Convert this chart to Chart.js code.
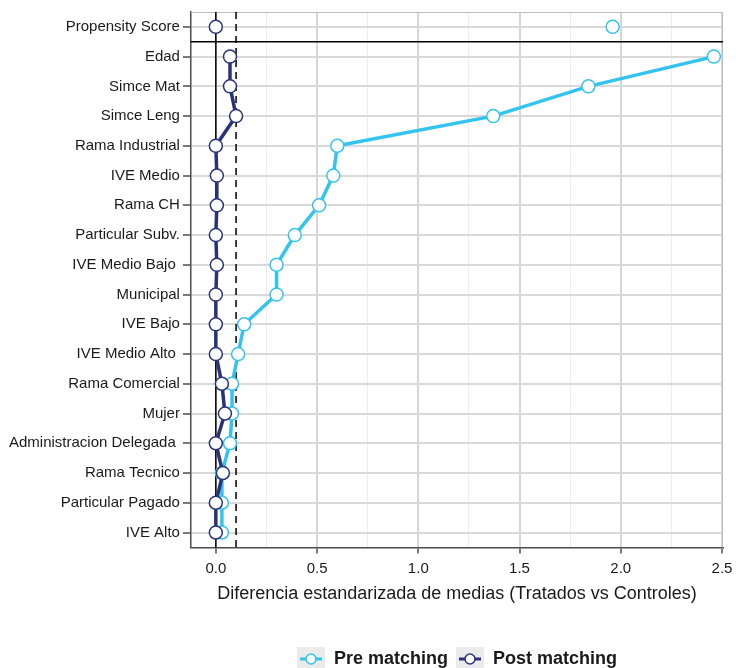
<!DOCTYPE html>
<html>
<head>
<meta charset="utf-8">
<script src="https://cdn.jsdelivr.net/npm/chart.js@4/dist/chart.umd.min.js"></script>
<style>
  html, body { margin: 0; padding: 0; background: #fff; }
  #wrap { width: 736px; height: 668px; }
</style>
</head>
<body>
<div id="wrap"><canvas id="balanceChart"></canvas></div>
<script>
// Data
const variables = ["Propensity Score", "Edad", "Simce Mat", "Simce Leng", "Rama Industrial",
  "IVE Medio", "Rama CH", "Particular Subv.", "IVE Medio Bajo ", "Municipal", "IVE Bajo",
  "IVE Medio Alto ", "Rama Comercial", "Mujer", "Administracion Delegada ", "Rama Tecnico",
  "Particular Pagado", "IVE Alto"];
const preMatching = [1.96, 2.46, 1.84, 1.37, 0.60, 0.58, 0.51, 0.39, 0.30, 0.30, 0.14, 0.11,
  0.08, 0.08, 0.07, 0.03, 0.03, 0.03];
const postMatching = [0.00, 0.07, 0.07, 0.10, 0.00, 0.005, 0.005, 0.00, 0.005, 0.00, 0.00, 0.00,
  0.03, 0.045, 0.00, 0.035, 0.00, 0.00];
const xMajorTicks = [0, 0.5, 1, 1.5, 2, 2.5];
const xMinorTicks = [0.25, 0.75, 1.25, 1.75, 2.25];
const threshold = 0.1;

const preColor = '#33c3ef';
const postColor = '#28337a';

// legend key: line + open circle on a grey box
function legendKey(color) {
  const c = document.createElement('canvas');
  c.width = 28; c.height = 24;
  const g = c.getContext('2d');
  g.fillStyle = '#ebebeb';
  g.fillRect(0, 0, 28, 24);
  g.strokeStyle = color;
  g.lineWidth = 3;
  g.beginPath(); g.moveTo(3, 12); g.lineTo(25, 12); g.stroke();
  g.fillStyle = '#fff';
  g.lineWidth = 1.5;
  g.beginPath(); g.arc(14, 12, 5, 0, Math.PI * 2); g.fill(); g.stroke();
  return c;
}
const legendKeys = [legendKey(preColor), legendKey(postColor)];

// zero line, 0.1 threshold, separator under propensity score, panel border
const refLines = {
  id: 'refLines',
  afterLayout(chart) {
    // centre the legend under the panel rather than the canvas
    chart.legend.left = chart.chartArea.left;
    chart.legend.right = chart.chartArea.right;
  },
  beforeDatasetsDraw(chart) {
    const { ctx, chartArea: a, scales: { x, y } } = chart;
    ctx.save();
    ctx.strokeStyle = '#bdbdbd';
    ctx.lineWidth = 1;
    ctx.beginPath();
    ctx.moveTo(a.left, a.top + 0.5); ctx.lineTo(a.right - 0.5, a.top + 0.5);
    ctx.lineTo(a.right - 0.5, a.bottom);
    ctx.stroke();

    ctx.strokeStyle = '#000';
    ctx.lineWidth = 1.5;
    const x0 = x.getPixelForValue(0);
    ctx.beginPath(); ctx.moveTo(x0, a.top); ctx.lineTo(x0, a.bottom); ctx.stroke();
    const yb = y.getPixelForValue(0.5);
    ctx.beginPath(); ctx.moveTo(a.left, yb); ctx.lineTo(a.right, yb); ctx.stroke();

    ctx.setLineDash([7, 5]);
    const xt = x.getPixelForValue(threshold);
    ctx.beginPath(); ctx.moveTo(xt, a.top); ctx.lineTo(xt, a.bottom); ctx.stroke();
    ctx.restore();
  }
};

const pointStyleOpts = {
  pointRadius: 6.5,
  pointHoverRadius: 6.5,
  pointBackgroundColor: '#fff',
  pointBorderWidth: 1.5
};

new Chart(document.getElementById('balanceChart'), {
  type: 'line',
  data: {
    labels: variables,
    datasets: [
      Object.assign({
        label: 'Pre matching',
        data: preMatching.map((v, i) => i === 0 ? null : v),
        borderColor: preColor,
        pointBorderColor: preColor,
        borderWidth: 3.5,
        order: 2
      }, pointStyleOpts),
      Object.assign({
        label: 'Post matching',
        data: postMatching.map((v, i) => i === 0 ? null : v),
        borderColor: postColor,
        pointBorderColor: postColor,
        borderWidth: 3.5,
        order: 1
      }, pointStyleOpts),
      Object.assign({
        label: 'Pre PS',
        data: preMatching.map((v, i) => i === 0 ? v : null),
        borderColor: preColor,
        pointBorderColor: preColor,
        showLine: false,
        order: 2
      }, pointStyleOpts),
      Object.assign({
        label: 'Post PS',
        data: postMatching.map((v, i) => i === 0 ? v : null),
        borderColor: postColor,
        pointBorderColor: postColor,
        showLine: false,
        order: 1
      }, pointStyleOpts)
    ]
  },
  options: {
    indexAxis: 'y',
    responsive: true,
    maintainAspectRatio: false,
    animation: false,
    spanGaps: false,
    layout: { padding: { left: 6, right: 13, top: 12, bottom: -10 } },
    scales: {
      x: {
        type: 'linear',
        min: -0.123,
        max: 2.505,
        afterBuildTicks(scale) {
          scale.ticks = xMajorTicks.concat(xMinorTicks).sort((a, b) => a - b).map(v => ({ value: v }));
        },
        afterFit(scale) {
          // let the "2.5" label run past the panel edge, as in the original
          scale.paddingRight = 0;
        },
        ticks: {
          color: '#1a1a1a',
          font: { family: 'Liberation Sans', size: 15 },
          padding: 6,
          autoSkip: false,
          maxRotation: 0,
          callback: v => xMajorTicks.includes(v) ? v.toFixed(1) : ''
        },
        grid: {
          color: c => xMajorTicks.includes(c.tick.value) ? '#d6d6d6' : '#ececec',
          lineWidth: c => xMajorTicks.includes(c.tick.value) ? 2 : 1,
          tickColor: c => xMajorTicks.includes(c.tick.value) ? '#4d4d4d' : 'rgba(0,0,0,0)',
          tickLength: 6,
          tickWidth: 1.5
        },
        border: { color: '#4d4d4d', width: 1.5 },
        title: {
          display: true,
          text: 'Diferencia estandarizada de medias (Tratados vs Controles)',
          color: '#1a1a1a',
          font: { family: 'Liberation Sans', size: 18 },
          padding: { top: 0, bottom: 37 }
        }
      },
      y: {
        type: 'category',
        offset: true,
        ticks: {
          color: '#1a1a1a',
          font: { family: 'Liberation Sans', size: 15 },
          padding: 3,
          autoSkip: false
        },
        grid: {
          offset: false,
          color: '#d9d9d9',
          lineWidth: 2,
          tickColor: '#4d4d4d',
          tickLength: 8,
          tickWidth: 1.5
        },
        border: { color: '#4d4d4d', width: 1.5 }
      }
    },
    plugins: {
      tooltip: { enabled: false },
      legend: {
        position: 'bottom',
        labels: {
          usePointStyle: true,
          pointStyleWidth: 28,
          color: '#1a1a1a',
          font: { family: 'Liberation Sans', size: 18, weight: 'bold' },
          padding: 8,
          sort: (a, b) => a.datasetIndex - b.datasetIndex,
          generateLabels(chart) {
            return Chart.defaults.plugins.legend.labels.generateLabels(chart)
              .filter(l => l.datasetIndex < 2)
              .map(l => Object.assign(l, { pointStyle: legendKeys[l.datasetIndex] }));
          }
        }
      }
    }
  },
  plugins: [refLines]
});
</script>
</body>
</html>
